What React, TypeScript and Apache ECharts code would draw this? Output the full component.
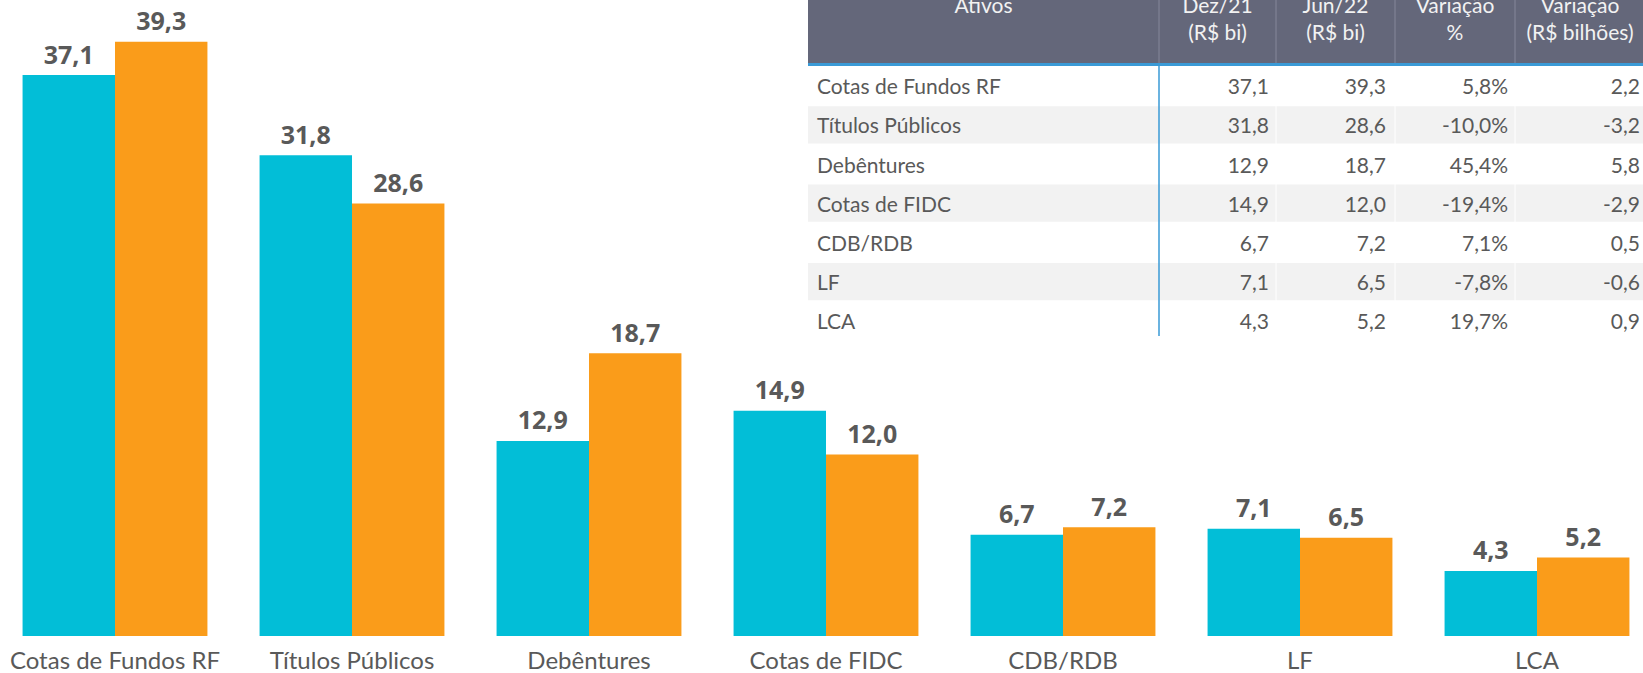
import React, { useEffect, useRef } from "react";
import * as echarts from "echarts";

const categories = ["Cotas de Fundos RF", "Títulos Públicos", "Debêntures", "Cotas de FIDC", "CDB/RDB", "LF", "LCA"];
const dez21 = [37.1, 31.8, 12.9, 14.9, 6.7, 7.1, 4.3];
const jun22 = [39.3, 28.6, 18.7, 12.0, 7.2, 6.5, 5.2];
const varPct = [5.8, -10.0, 45.4, -19.4, 7.1, -7.8, 19.7];
const varBi = [2.2, -3.2, 5.8, -2.9, 0.5, -0.6, 0.9];
const tableHeaders = [
  ["Ativos", ""],
  ["Dez/21", "(R$ bi)"],
  ["Jun/22", "(R$ bi)"],
  ["Variação", "%"],
  ["Variação", "(R$ bilhões)"],
];

const fmt = (v: number) => v.toFixed(1).replace(".", ",");

const CYAN = "#02BED7";
const ORANGE = "#FA9C1A";
const TXT = "#595959";
const FONT = "Lato, 'Open Sans', sans-serif";

function buildTable() {
  const els: any[] = [];
  const left = 808;
  const right = 1650;
  const colEdges = [808, 1159, 1276, 1395, 1515, 1650];
  const headTop = -30;
  const headBottom = 63;
  const rowTop = 66;
  const rowH = 39.2;

  els.push({ type: "rect", shape: { x: left, y: headTop, width: right - left, height: headBottom - headTop }, style: { fill: "#64677A" }, silent: true });
  els.push({ type: "rect", shape: { x: left, y: headBottom, width: right - left, height: 3 }, style: { fill: "#3A9AD6" }, silent: true });
  for (let c = 1; c < 5; c++) {
    els.push({ type: "line", shape: { x1: colEdges[c], y1: headTop, x2: colEdges[c], y2: headBottom }, style: { stroke: "#85889A", lineWidth: 1 }, silent: true });
  }
  // header texts
  tableHeaders.forEach((h, c) => {
    const cx = c === 4 ? 1580 : (colEdges[c] + colEdges[c + 1]) / 2;
    els.push({ type: "text", x: cx, y: 4, style: { text: h[0], fill: "#F2F2F2", font: `21px ${FONT}`, textAlign: "center", textVerticalAlign: "middle", align: "center", verticalAlign: "middle" }, silent: true });
    if (h[1]) {
      els.push({ type: "text", x: cx, y: 31, style: { text: h[1], fill: "#F2F2F2", font: `21px ${FONT}`, textAlign: "center", textVerticalAlign: "middle", align: "center", verticalAlign: "middle" }, silent: true });
    }
  });
  // rows
  categories.forEach((cat, i) => {
    const y0 = rowTop + i * rowH;
    if (i % 2 === 1) {
      els.push({ type: "rect", shape: { x: left, y: y0 + 1, width: right - left, height: rowH - 2 }, style: { fill: "#F2F2F2" }, silent: true });
      for (let c = 2; c < 5; c++) {
        els.push({ type: "line", shape: { x1: colEdges[c], y1: y0, x2: colEdges[c], y2: y0 + rowH }, style: { stroke: "#FFFFFF", lineWidth: 1 }, silent: true });
      }
    }
    const cy = y0 + rowH / 2;
    const vals = [fmt(dez21[i]), fmt(jun22[i]), fmt(varPct[i]) + "%", fmt(varBi[i])];
    const rx = [1269, 1386, 1508, 1640];
    els.push({ type: "text", x: 817, y: cy, style: { text: cat, fill: TXT, font: `21px ${FONT}`, textAlign: "left", textVerticalAlign: "middle", align: "left", verticalAlign: "middle" }, silent: true });
    vals.forEach((v, k) => {
      els.push({ type: "text", x: rx[k], y: cy, style: { text: v, fill: TXT, font: `21px ${FONT}`, textAlign: "right", textVerticalAlign: "middle", align: "right", verticalAlign: "middle" }, silent: true });
    });
  });
  els.push({ type: "line", shape: { x1: 1159, y1: headBottom + 3, x2: 1159, y2: 336 }, style: { stroke: "#3A9AD6", lineWidth: 1.5 }, silent: true });
  return els;
}

export default function App() {
  const ref = useRef<HTMLDivElement>(null);
  useEffect(() => {
    if (!ref.current) return;
    const chart = echarts.init(ref.current, undefined, { renderer: "svg" });
    const labelCfg = {
      show: true,
      position: "top" as const,
      distance: 9,
      color: TXT,
      fontSize: 25,
      fontWeight: "bold" as const,
      fontFamily: "'Open Sans', sans-serif",
      formatter: (p: any) => fmt(p.value),
    };
    chart.setOption({
      animation: false,
      backgroundColor: "#FFFFFF",
      grid: { left: -3.5, right: -12.5, top: 1, bottom: 37, containLabel: false, outerBoundsMode: "none" },
      xAxis: {
        type: "category",
        data: categories,
        axisLine: { show: false },
        axisTick: { show: false },
        axisLabel: { color: TXT, fontSize: 24, fontFamily: FONT, margin: 11, interval: 0 },
      },
      yAxis: { type: "value", min: 0, max: 42, show: false, splitLine: { show: false } },
      series: [
        { name: "Dez/21", type: "bar", data: dez21, barGap: "0%", barCategoryGap: "22%", itemStyle: { color: CYAN }, label: labelCfg },
        { name: "Jun/22", type: "bar", data: jun22, barGap: "0%", barCategoryGap: "22%", itemStyle: { color: ORANGE }, label: labelCfg },
      ],
      graphic: { elements: buildTable() },
    });
    return () => chart.dispose();
  }, []);
  return <div ref={ref} style={{ position: "fixed", left: 0, top: 0, width: 1643, height: 673 }} />;
}
